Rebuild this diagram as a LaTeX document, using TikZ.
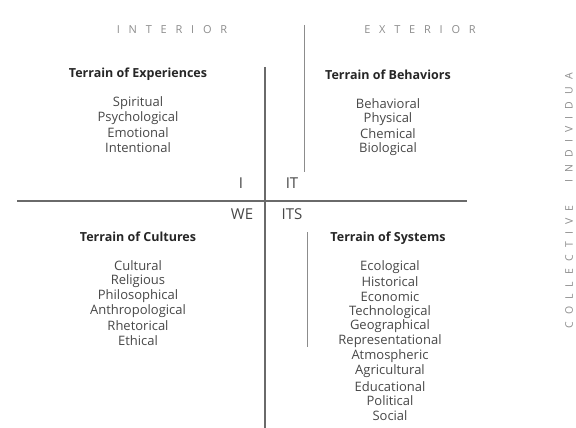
\documentclass[tikz,border=0pt]{standalone}
\usepackage{fontspec}
\setmainfont{Open Sans}
\usetikzlibrary{positioning}

\definecolor{scangray}{HTML}{8C8C8C}
\definecolor{textgray}{HTML}{474747}
\definecolor{linegray}{HTML}{6A6A6A}

\tikzset{
    axislabel/.style={text=scangray, inner sep=0pt, font=\fontsize{11}{13}\selectfont\addfontfeature{LetterSpace=80}},
    sidelabel/.style={text=scangray, inner sep=0pt, rotate=90, font=\fontsize{10.5}{13}\selectfont\addfontfeature{LetterSpace=68}},
    terrain/.style={text=black!85, inner sep=0pt, font=\fontsize{12.5}{14}\selectfont\bfseries},
    item/.style={text=textgray, inner sep=0pt, font=\fontsize{13}{14}\selectfont},
    quadlabel/.style={text=textgray, inner sep=0pt, font=\fontsize{15}{16}\selectfont}
}

\begin{document}
\begin{tikzpicture}[x=1pt, y=-1pt]
    \useasboundingbox (0,0) rectangle (576,428);
    % Axes
    \draw[linegray, line width=1.3pt] (265,67) -- (265,428);
    \draw[linegray, line width=1.3pt] (17,201) -- (467,201);
    % faint second rule
    \draw[scangray, line width=0.7pt] (304,25) -- (304,172);
    \draw[scangray, line width=0.7pt] (307,232) -- (307,347);

    % Headers
    \node[axislabel] (interior) at (172,30) {INTERIOR};
    \node[axislabel] (exterior) at (420,30) {EXTERIOR};
    \node[sidelabel] (indiv) at (569,128) {INDIVIDUA};
    \node[sidelabel] (coll) at (569,267) {COLLECTIVE};

    % Quadrant labels
    \node[quadlabel] (qI) at (241,183) {I};
    \node[quadlabel] (qIT) at (292,183) {IT};
    \node[quadlabel] (qWE) at (242,214) {WE};
    \node[quadlabel] (qITS) at (292,214) {ITS};

    % Upper left
    \node[terrain] (terrExp) at (138,74) {Terrain of Experiences};
    \foreach \w [count=\i] in {Spiritual, Psychological, Emotional, Intentional}
    {
        \node[item] (exp\i) at (138,{103+15*(\i-1)}) {\w};
    }
    % Upper right
    \node[terrain] (terrBeh) at (388,75) {Terrain of Behaviors};
    \foreach \w [count=\i] in {Behavioral, Physical, Chemical, Biological}
    {
        \node[item] (beh\i) at (388,{104+15*(\i-1)}) {\w};
    }
    % Lower left
    \node[terrain] (terrCul) at (138,237) {Terrain of Cultures};
    \foreach \w [count=\i] in {Cultural, Religious, Philosophical, Anthropological, Rhetorical, Ethical}
    {
        \node[item] (cul\i) at (138,{266+15*(\i-1)}) {\w};
    }
    % Lower right
    \node[terrain] (terrSys) at (388,238) {Terrain of Systems};
    \foreach \w [count=\i] in {Ecological, Historical, Economic, Technological, Geographical, Representational, Atmospheric, Agricultural, Educational, Political, Social}
    {
        \node[item] (sys\i) at (390,{267+14.9*(\i-1)}) {\w};
    }
\end{tikzpicture}
\end{document}
